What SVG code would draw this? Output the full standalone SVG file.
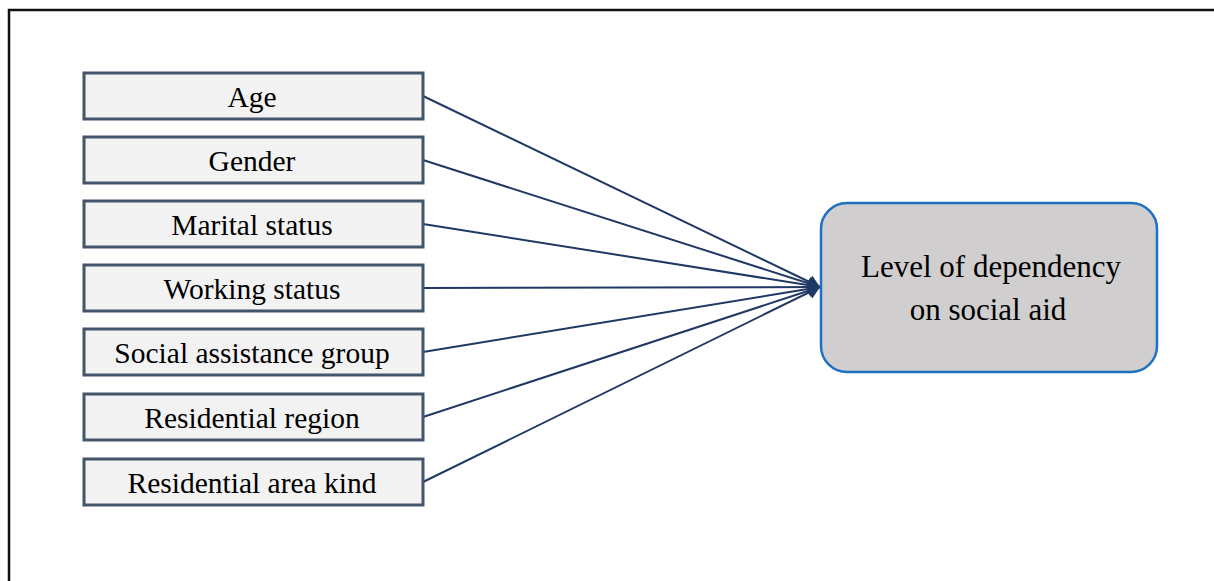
<svg xmlns="http://www.w3.org/2000/svg" width="1214" height="581" viewBox="0 0 1214 581">
<style>
.bg{fill:#fff}
.frame{fill:none;stroke:#111;stroke-width:2.5}
.box{fill:#f2f2f2;stroke:#44546a;stroke-width:3}
.tgt{fill:#d0cece;stroke:#1f70c1;stroke-width:2.5}
.lbl{font-family:"Liberation Serif","Times New Roman",serif;font-size:29.5px;fill:#000;text-anchor:middle}
.big{font-size:31px}
.conn{stroke:#203864;stroke-width:2;fill:none}
</style>
<defs>
<marker id="ah" viewBox="0 0 10 10" refX="10" refY="5" markerWidth="6" markerHeight="7" markerUnits="strokeWidth" orient="auto" preserveAspectRatio="none">
<path d="M0,0 L10,5 L0,10 z" fill="#203864"/>
</marker>
</defs>
<rect class="bg" x="0" y="0" width="1214" height="581"/>
<path class="frame" d="M9,581 V10 H1214"/>
<g id="connectors">
<line class="conn" x1="423" y1="96" x2="820" y2="287" marker-end="url(#ah)"/>
<line class="conn" x1="423" y1="160" x2="820" y2="287" marker-end="url(#ah)"/>
<line class="conn" x1="423" y1="224" x2="820" y2="287" marker-end="url(#ah)"/>
<line class="conn" x1="423" y1="288" x2="820" y2="287" marker-end="url(#ah)"/>
<line class="conn" x1="423" y1="352" x2="820" y2="287" marker-end="url(#ah)"/>
<line class="conn" x1="423" y1="417" x2="820" y2="287" marker-end="url(#ah)"/>
<line class="conn" x1="423" y1="482" x2="820" y2="287" marker-end="url(#ah)"/>
</g>
<g id="age"><rect class="box" x="84" y="73" width="339" height="46"/><text class="lbl" x="252" y="107">Age</text></g>
<g id="gender"><rect class="box" x="84" y="137" width="339" height="46"/><text class="lbl" x="252" y="171">Gender</text></g>
<g id="marital"><rect class="box" x="84" y="201" width="339" height="46"/><text class="lbl" x="252" y="235">Marital status</text></g>
<g id="working"><rect class="box" x="84" y="265" width="339" height="46"/><text class="lbl" x="252" y="299">Working status</text></g>
<g id="socialgroup"><rect class="box" x="84" y="329" width="339" height="46"/><text class="lbl" x="252" y="363">Social assistance group</text></g>
<g id="region"><rect class="box" x="84" y="394" width="339" height="46"/><text class="lbl" x="252" y="428">Residential region</text></g>
<g id="areakind"><rect class="box" x="84" y="459" width="339" height="46"/><text class="lbl" x="252" y="493">Residential area kind</text></g>
<g id="target"><rect class="tgt" x="821" y="203" width="336" height="169" rx="26" ry="26"/>
<text class="lbl big" x="991" y="277">Level of dependency</text>
<text class="lbl big" x="988" y="320">on social aid</text></g>
</svg>
